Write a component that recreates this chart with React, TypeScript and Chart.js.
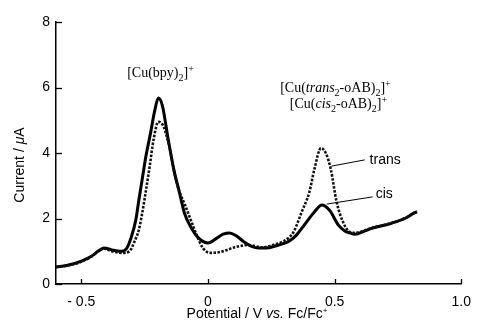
import React, { useEffect, useRef } from "react";
import { Chart, registerables } from "chart.js";

Chart.register(...registerables);

// Potential (V vs. Fc/Fc+) and current (µA) – solid curve (cis)
const cisPotential = [
  -0.6, -0.55, -0.5, -0.46, -0.43, -0.41, -0.38, -0.34, -0.32, -0.305, -0.285, -0.273, -0.26, -0.245,
  -0.227, -0.21, -0.196, -0.18, -0.158, -0.135, -0.115, -0.093, -0.065, -0.042, -0.02, 0.0, 0.035,
  0.06, 0.085, 0.11, 0.14, 0.17, 0.2, 0.23, 0.27, 0.3, 0.323, 0.35, 0.38, 0.42, 0.45, 0.48, 0.515,
  0.54, 0.56, 0.58, 0.62, 0.65, 0.7, 0.727, 0.777, 0.815, 0.825,
];
const cisCurrent = [
  0.52, 0.58, 0.7, 0.85, 1.02, 1.1, 1.04, 1.0, 1.1, 1.38, 1.95, 2.56, 3.18, 3.9,
  4.6, 5.3, 5.68, 5.45, 4.46, 3.5, 2.87, 2.17, 1.7, 1.44, 1.3, 1.25, 1.4,
  1.52, 1.56, 1.48, 1.3, 1.16, 1.1, 1.1, 1.17, 1.24, 1.32, 1.5, 1.8, 2.2, 2.41, 2.25, 1.8,
  1.62, 1.56, 1.52, 1.62, 1.71, 1.8, 1.86, 2.0, 2.17, 2.2,
];

// dotted curve (trans)
const transPotential = [
  -0.6, -0.55, -0.5, -0.46, -0.43, -0.41, -0.38, -0.34, -0.31, -0.29, -0.273, -0.26, -0.246, -0.23,
  -0.215, -0.196, -0.175, -0.15, -0.13, -0.115, -0.09, -0.07, -0.045, -0.02, 0.01, 0.05, 0.11, 0.16,
  0.215, 0.26, 0.29, 0.32, 0.34, 0.37, 0.4, 0.42, 0.446, 0.465, 0.485, 0.508, 0.535, 0.555, 0.58,
  0.62, 0.65, 0.7, 0.727, 0.777, 0.815, 0.825,
];
const transCurrent = [
  0.52, 0.57, 0.68, 0.84, 1.02, 1.08, 1.0, 0.95, 1.0, 1.3, 1.65, 2.15, 2.8, 3.6,
  4.4, 4.95, 4.8, 4.1, 3.3, 2.87, 2.4, 2.0, 1.5, 1.1, 0.95, 0.98, 1.13, 1.19,
  1.12, 1.2, 1.28, 1.42, 1.62, 2.2, 2.8, 3.5, 4.15, 4.0, 3.5, 2.5, 1.86, 1.62, 1.56,
  1.64, 1.72, 1.81, 1.87, 2.01, 2.18, 2.22,
];

const xTickValues = [-0.5, 0, 0.5, 1.0];
const yTickValues = [0, 2, 4, 6, 8];

const SANS = '"Liberation Sans", Arial, sans-serif';
const SERIF = '"Liberation Serif", "Times New Roman", serif';

type Part = { t: string; k?: "n" | "sub" | "sup" | "i" | "tiny" };

function partFont(p: Part, size: number, family: string) {
  let fs = size;
  let style = "";
  if (p.k === "sub" || p.k === "sup") fs = Math.round(size * 0.68);
  if (p.k === "tiny") fs = Math.round(size * 0.55);
  if (p.k === "i") style = "italic ";
  const dy = p.k === "sub" ? size * 0.28 : p.k === "sup" ? -size * 0.38 : p.k === "tiny" ? -size * 0.2 : 0;
  return { font: `${style}${fs}px ${family}`, dy };
}

function measureRich(ctx: CanvasRenderingContext2D, parts: Part[], size: number, family: string) {
  let w = 0;
  for (const p of parts) {
    ctx.font = partFont(p, size, family).font;
    w += ctx.measureText(p.t).width;
  }
  return w;
}

function drawRich(ctx: CanvasRenderingContext2D, x: number, y: number, parts: Part[], size: number, family: string) {
  let cx = x;
  ctx.textAlign = "left";
  for (const p of parts) {
    const f = partFont(p, size, family);
    ctx.font = f.font;
    ctx.fillText(p.t, cx, y + f.dy);
    cx += ctx.measureText(p.t).width;
  }
}

const decorPlugin = {
  id: "decor",
  afterDraw(chart: any) {
    const ctx: CanvasRenderingContext2D = chart.ctx;
    const xs = chart.scales.x;
    const ys = chart.scales.y;
    const area = chart.chartArea;
    ctx.save();
    ctx.strokeStyle = "#000";
    ctx.fillStyle = "#000";
    ctx.lineWidth = 1.3;
    // inward tick marks
    for (const v of xTickValues) {
      const px = Math.round(xs.getPixelForValue(v)) + 0.5;
      ctx.beginPath();
      ctx.moveTo(px, area.bottom);
      ctx.lineTo(px, area.bottom - 5);
      ctx.stroke();
    }
    for (const v of yTickValues) {
      const py = Math.round(ys.getPixelForValue(v)) + 0.5;
      ctx.beginPath();
      ctx.moveTo(area.left, py);
      ctx.lineTo(area.left + 6, py);
      ctx.stroke();
    }

    // axis titles
    ctx.textBaseline = "middle";
    const xTitle: Part[] = [
      { t: "Potential / V " },
      { t: "vs.", k: "i" },
      { t: " Fc/Fc" },
      { t: "+", k: "tiny" },
    ];
    const wX = measureRich(ctx, xTitle, 14, SANS);
    drawRich(ctx, 257 - wX / 2, 314, xTitle, 14, SANS);

    const yTitle: Part[] = [{ t: "Current / " }, { t: "\u03bc", k: "i" }, { t: "A" }];
    const wY = measureRich(ctx, yTitle, 14, SANS);
    ctx.save();
    ctx.translate(20, 165);
    ctx.rotate(-Math.PI / 2);
    drawRich(ctx, -wY / 2, 0, yTitle, 14, SANS);
    ctx.restore();

    // compound annotations
    ctx.textBaseline = "alphabetic";
    const X = (v: number) => xs.getPixelForValue(v);
    const Y = (v: number) => ys.getPixelForValue(v);
    drawRich(ctx, X(-0.319), Y(6.32), [
      { t: "[Cu(bpy)" }, { t: "2", k: "sub" }, { t: "]" }, { t: "+", k: "sup" },
    ], 14, SERIF);
    drawRich(ctx, X(0.285), Y(5.85), [
      { t: "[Cu(" }, { t: "trans", k: "i" }, { t: "2", k: "sub" }, { t: "-oAB)" }, { t: "2", k: "sub" }, { t: "]" }, { t: "+", k: "sup" },
    ], 14, SERIF);
    drawRich(ctx, X(0.323), Y(5.36), [
      { t: "[Cu(" }, { t: "cis", k: "i" }, { t: "2", k: "sub" }, { t: "-oAB)" }, { t: "2", k: "sub" }, { t: "]" }, { t: "+", k: "sup" },
    ], 14, SERIF);

    // leader lines and labels
    ctx.lineWidth = 1;
    ctx.beginPath();
    ctx.moveTo(X(0.488), Y(3.6));
    ctx.lineTo(X(0.619), Y(3.79));
    ctx.moveTo(X(0.469), Y(2.44));
    ctx.lineTo(X(0.65), Y(2.66));
    ctx.stroke();
    ctx.textBaseline = "middle";
    ctx.font = `14px ${SANS}`;
    ctx.fillText("trans", X(0.638), Y(3.79));
    ctx.fillText("cis", X(0.662), Y(2.73));
    ctx.restore();
  },
};

export default function App() {
  const ref = useRef<HTMLCanvasElement | null>(null);
  useEffect(() => {
    if (!ref.current) return;
    const cis = cisPotential.map((x, i) => ({ x, y: cisCurrent[i] }));
    const trans = transPotential.map((x, i) => ({ x, y: transCurrent[i] }));
    const chart = new Chart(ref.current, {
      type: "line",
      data: {
        datasets: [
          {
            label: "trans",
            data: trans,
            borderColor: "#111",
            borderWidth: 2.6,
            borderDash: [2.5, 1.5],
            pointRadius: 0,
            cubicInterpolationMode: "monotone",
            fill: false,
          },
          {
            label: "cis",
            data: cis,
            borderColor: "#000",
            borderWidth: 3,
            pointRadius: 0,
            cubicInterpolationMode: "monotone",
            fill: false,
          },
        ],
      },
      options: {
        animation: false,
        responsive: false,
        maintainAspectRatio: false,
        layout: { padding: { left: 0, top: 22, right: 11, bottom: 0 } },
        plugins: { legend: { display: false }, tooltip: { enabled: false }, title: { display: false } },
        scales: {
          x: {
            type: "linear",
            min: -0.6,
            max: 1.0,
            afterBuildTicks: (s: any) => {
              s.ticks = xTickValues.map((v) => ({ value: v }));
            },
            afterFit: (s: any) => {
              s.height = 38;
            },
            grid: { display: true, drawOnChartArea: false, drawTicks: false },
            border: { display: true, color: "#000", width: 1.5 },
            ticks: {
              padding: 10,
              color: "#000",
              font: { family: SANS, size: 14 },
              maxRotation: 0,
              autoSkip: false,
              callback: (v: any) => {
                const n = Number(v);
                if (n === 0) return "0";
                if (n < 0) return "- " + Math.abs(n).toFixed(1);
                return n.toFixed(1);
              },
            },
          },
          y: {
            type: "linear",
            min: 0,
            max: 8,
            afterBuildTicks: (s: any) => {
              s.ticks = yTickValues.map((v) => ({ value: v }));
            },
            afterFit: (s: any) => {
              s.width = 56;
            },
            grid: { display: true, drawOnChartArea: false, drawTicks: false },
            border: { display: true, color: "#000", width: 1.5 },
            ticks: {
              padding: 6,
              color: "#000",
              font: { family: SANS, size: 14 },
              callback: (v: any) => String(v),
            },
          },
        },
      },
      plugins: [decorPlugin],
    });
    return () => chart.destroy();
  }, []);
  return (
    <div style={{ position: "absolute", left: 0, top: 0, width: 481, height: 322, background: "#fff" }}>
      <canvas ref={ref} width={481} height={322} style={{ width: 481, height: 322, display: "block" }} />
    </div>
  );
}
